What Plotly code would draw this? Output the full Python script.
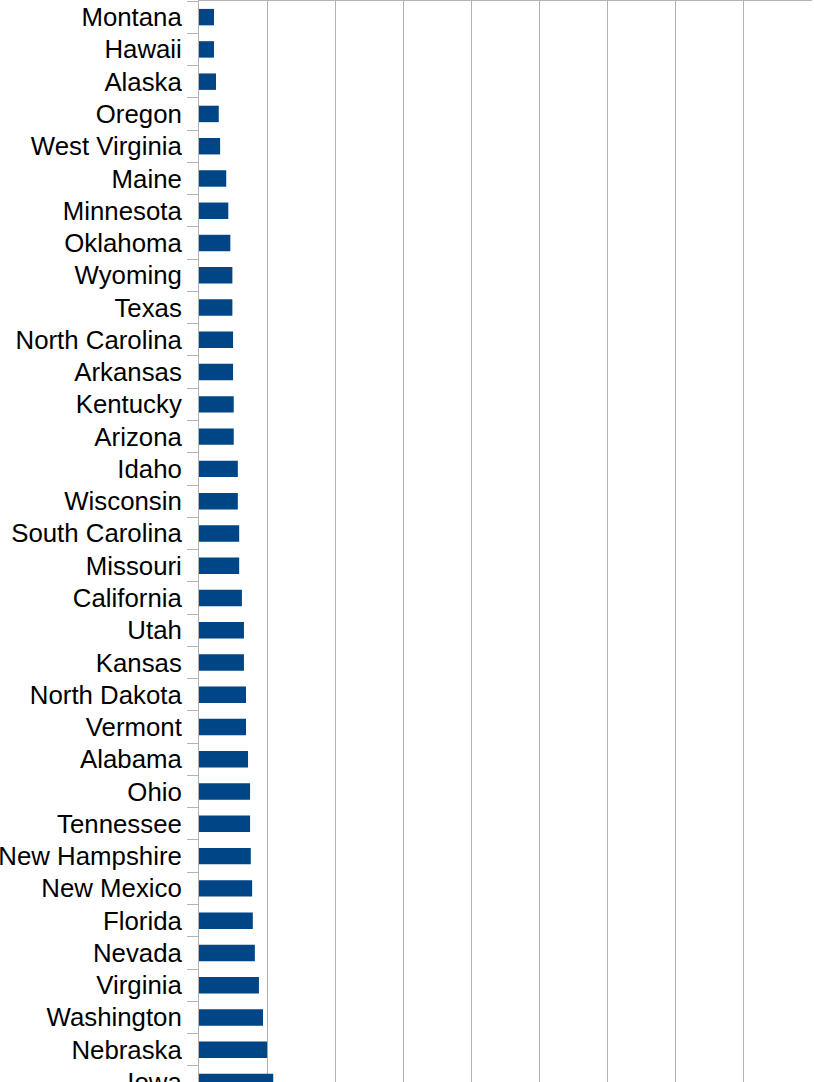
import plotly.graph_objects as go

states = ["Montana", "Hawaii", "Alaska", "Oregon", "West Virginia", "Maine", "Minnesota",
          "Oklahoma", "Wyoming", "Texas", "North Carolina", "Arkansas", "Kentucky", "Arizona",
          "Idaho", "Wisconsin", "South Carolina", "Missouri", "California", "Utah", "Kansas",
          "North Dakota", "Vermont", "Alabama", "Ohio", "Tennessee", "New Hampshire",
          "New Mexico", "Florida", "Nevada", "Virginia", "Washington", "Nebraska", "Iowa"]
values = [0.22, 0.22, 0.25, 0.29, 0.31, 0.40, 0.43, 0.46, 0.49, 0.49, 0.50, 0.50, 0.51, 0.51,
          0.57, 0.57, 0.59, 0.59, 0.63, 0.66, 0.66, 0.69, 0.69, 0.72, 0.75, 0.75, 0.76,
          0.78, 0.79, 0.82, 0.88, 0.94, 1.00, 1.09]

fig = go.Figure(go.Bar(
    x=values, y=states, orientation="h",
    marker=dict(color="#004586", line=dict(width=0)),
    width=0.51,
))

fig.update_layout(
    width=814, height=1082,
    margin=dict(l=199, r=2, t=1, b=0, autoexpand=False),
    plot_bgcolor="white", paper_bgcolor="white",
    showlegend=False,
    font=dict(family="Liberation Sans, Arial, sans-serif", size=25, color="#000000"),
    bargap=0.49,
)
fig.update_xaxes(
    range=[0, 9], dtick=1, showticklabels=False,
    showgrid=True, gridcolor="#b3b3b3", gridwidth=1,
    zeroline=False, side="top", automargin=False,
    showline=True, linecolor="#b3b3b3", linewidth=1,
    ticks="",
)
fig.update_yaxes(
    type="category", categoryorder="array", categoryarray=states,
    range=[33.0, -0.5], automargin=False,
    showgrid=False, zeroline=False,
    showline=True, linecolor="#b3b3b3", linewidth=1,
    ticks="outside", tickson="boundaries", ticklen=11, tickcolor="#b3b3b3",
    ticklabelstandoff=11,
    tickfont=dict(family="Liberation Sans, Arial, sans-serif", size=25.8, color="#000000"),
)

fig.write_html(
    "out.html",
    config={"displayModeBar": False},
    post_script="document.body.style.margin='0';document.body.style.overflow='hidden';"
                "document.documentElement.style.overflow='hidden';",
)
